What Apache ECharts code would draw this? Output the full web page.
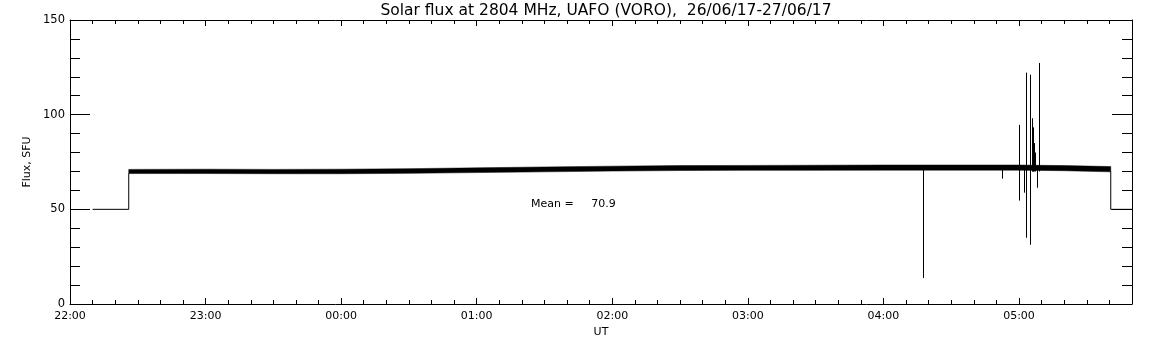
<!DOCTYPE html>
<html>
<head>
<meta charset="utf-8">
<script src="https://cdn.jsdelivr.net/npm/echarts@6.0.0/dist/echarts.min.js"></script>
<style>
  html, body { margin: 0; padding: 0; background: #fff; }
  #chart { width: 1152px; height: 345px; }
</style>
</head>
<body>
<div id="chart"></div>
<script>
// time is minutes after 22:00 UT
var tickLabels = ["22:00", "23:00", "00:00", "01:00", "02:00", "03:00", "04:00", "05:00"];

// quiet level before / after the observation (SFU)
var stepLeft = [[10, 50], [26, 50], [26, 69]];
var stepRight = [[460.6, 70], [460.6, 50], [470, 50]];

// noise band of the flux record
var bandTime = [26, 60, 90, 120, 150, 180, 210, 240, 270, 300, 330, 360, 390, 420, 440, 460.6];
var bandLow = [68.9, 68.9, 68.8, 68.8, 69.0, 69.4, 69.8, 70.2, 70.5, 70.6, 70.6, 70.7, 70.7, 70.7, 70.4, 69.8];
var bandHigh = [71.1, 71.2, 71.1, 71.2, 71.5, 71.9, 72.4, 72.8, 73.1, 73.2, 73.3, 73.4, 73.4, 73.4, 73.1, 72.6];

// spikes: [time, low, high]
var spikes = [
  [377.4, 13.7, 71],
  [412.4, 66.2, 71],
  [419.9, 54.6, 94.6],
  [422.1, 58.8, 71],
  [423.0, 35.0, 122.2],
  [424.8, 31.3, 121.1],
  [425.7, 70, 98.1],
  [425.9, 70, 88.7],
  [426.1, 70, 93.3],
  [426.3, 70, 88.7],
  [426.6, 70, 85],
  [426.9, 70, 80],
  [427.9, 61.4, 72],
  [428.8, 70, 127.3]
];
var meanValue = 70.9;

var font = "DejaVu Sans";

function xLabel(v) {
  if (v % 60 !== 0) return "";
  return tickLabels[v / 60] || "";
}

// one frame axis (no labels), used for the top / right side and the hourly ticks
function xFrame(pos, interval, len, showLine) {
  return {
    type: "value", position: pos, min: 0, max: 470, interval: interval,
    axisLine: { show: showLine, onZero: false, lineStyle: { color: "#000", width: 1 } },
    axisTick: { inside: true, length: len, lineStyle: { color: "#000" } },
    axisLabel: { show: false },
    splitLine: { show: false }
  };
}

var myChart = echarts.init(document.getElementById("chart"));

var option = {
  backgroundColor: "#fff",
  animation: false,
  title: {
    text: "Solar flux at 2804 MHz, UAFO (VORO),  26/06/17-27/06/17",
    left: 601,
    textAlign: "center",
    top: -2,
    textStyle: { fontFamily: font, fontSize: 15.5, fontWeight: "normal", color: "#000" }
  },
  grid: { left: 70, right: 20, top: 20, bottom: 41 },
  xAxis: [
    {
      // bottom, ticks every 10 min + hour labels
      type: "value", position: "bottom", min: 0, max: 470, interval: 10,
      name: "UT", nameLocation: "middle", nameGap: 18,
      nameTextStyle: { fontFamily: font, fontSize: 11, color: "#000" },
      axisLine: { onZero: false, lineStyle: { color: "#000", width: 1 } },
      axisTick: { inside: true, length: 4, lineStyle: { color: "#000" } },
      axisLabel: { formatter: xLabel, fontFamily: font, fontSize: 11, color: "#000", margin: 7 },
      splitLine: { show: false }
    },
    xFrame("bottom", 60, 6, false),
    xFrame("top", 10, 4, true),
    xFrame("top", 60, 6, false)
  ],
  yAxis: [
    {
      type: "value", position: "left", min: 0, max: 150, interval: 50,
      name: "Flux, SFU", nameLocation: "middle", nameGap: 31, nameRotate: 90,
      nameTextStyle: { fontFamily: font, fontSize: 11, color: "#000" },
      axisLine: { show: true, onZero: false, lineStyle: { color: "#000", width: 1 } },
      axisTick: { show: true, inside: true, length: 20, lineStyle: { color: "#000" } },
      minorTick: { show: true, splitNumber: 5, length: 10, lineStyle: { color: "#000" } },
      axisLabel: { fontFamily: font, fontSize: 11.5, color: "#000", margin: 5 },
      splitLine: { show: false }
    },
    {
      type: "value", position: "right", min: 0, max: 150, interval: 50,
      axisLine: { show: true, onZero: false, lineStyle: { color: "#000", width: 1 } },
      axisTick: { show: true, inside: true, length: 20, lineStyle: { color: "#000" } },
      minorTick: { show: true, splitNumber: 5, length: 10, lineStyle: { color: "#000" } },
      axisLabel: { show: false },
      splitLine: { show: false }
    }
  ],
  graphic: [
    {
      type: "text", left: 531, top: 199,
      style: { text: "Mean =     " + meanValue.toFixed(1), fontFamily: font, fontSize: 11, fill: "#000" }
    }
  ],
  series: [
    {
      type: "line", data: stepLeft, symbol: "none",
      lineStyle: { color: "#000", width: 1 }
    },
    {
      type: "line", data: stepRight, symbol: "none",
      lineStyle: { color: "#000", width: 1 }
    },
    {
      // the noisy record as a filled band
      type: "custom",
      data: [[bandTime[0], bandLow[0]]],
      renderItem: function (params, api) {
        var top = [], bottom = [];
        for (var i = 0; i < bandTime.length; i++) {
          top.push(api.coord([bandTime[i], bandHigh[i]]));
          bottom.push(api.coord([bandTime[i], bandLow[i]]));
        }
        return {
          type: "polygon",
          shape: { points: top.concat(bottom.reverse()) },
          style: { fill: "#000", stroke: "#000", lineWidth: 0.5 }
        };
      }
    },
    {
      type: "custom",
      data: spikes,
      encode: { x: 0, y: [1, 2] },
      renderItem: function (params, api) {
        var p1 = api.coord([api.value(0), api.value(1)]);
        var p2 = api.coord([api.value(0), api.value(2)]);
        var x = Math.round(p1[0]) + 0.5;
        return {
          type: "line",
          shape: { x1: x, y1: p1[1], x2: x, y2: p2[1] },
          style: { stroke: "#000", lineWidth: 1 }
        };
      }
    }
  ]
};

myChart.setOption(option);
</script>
</body>
</html>
